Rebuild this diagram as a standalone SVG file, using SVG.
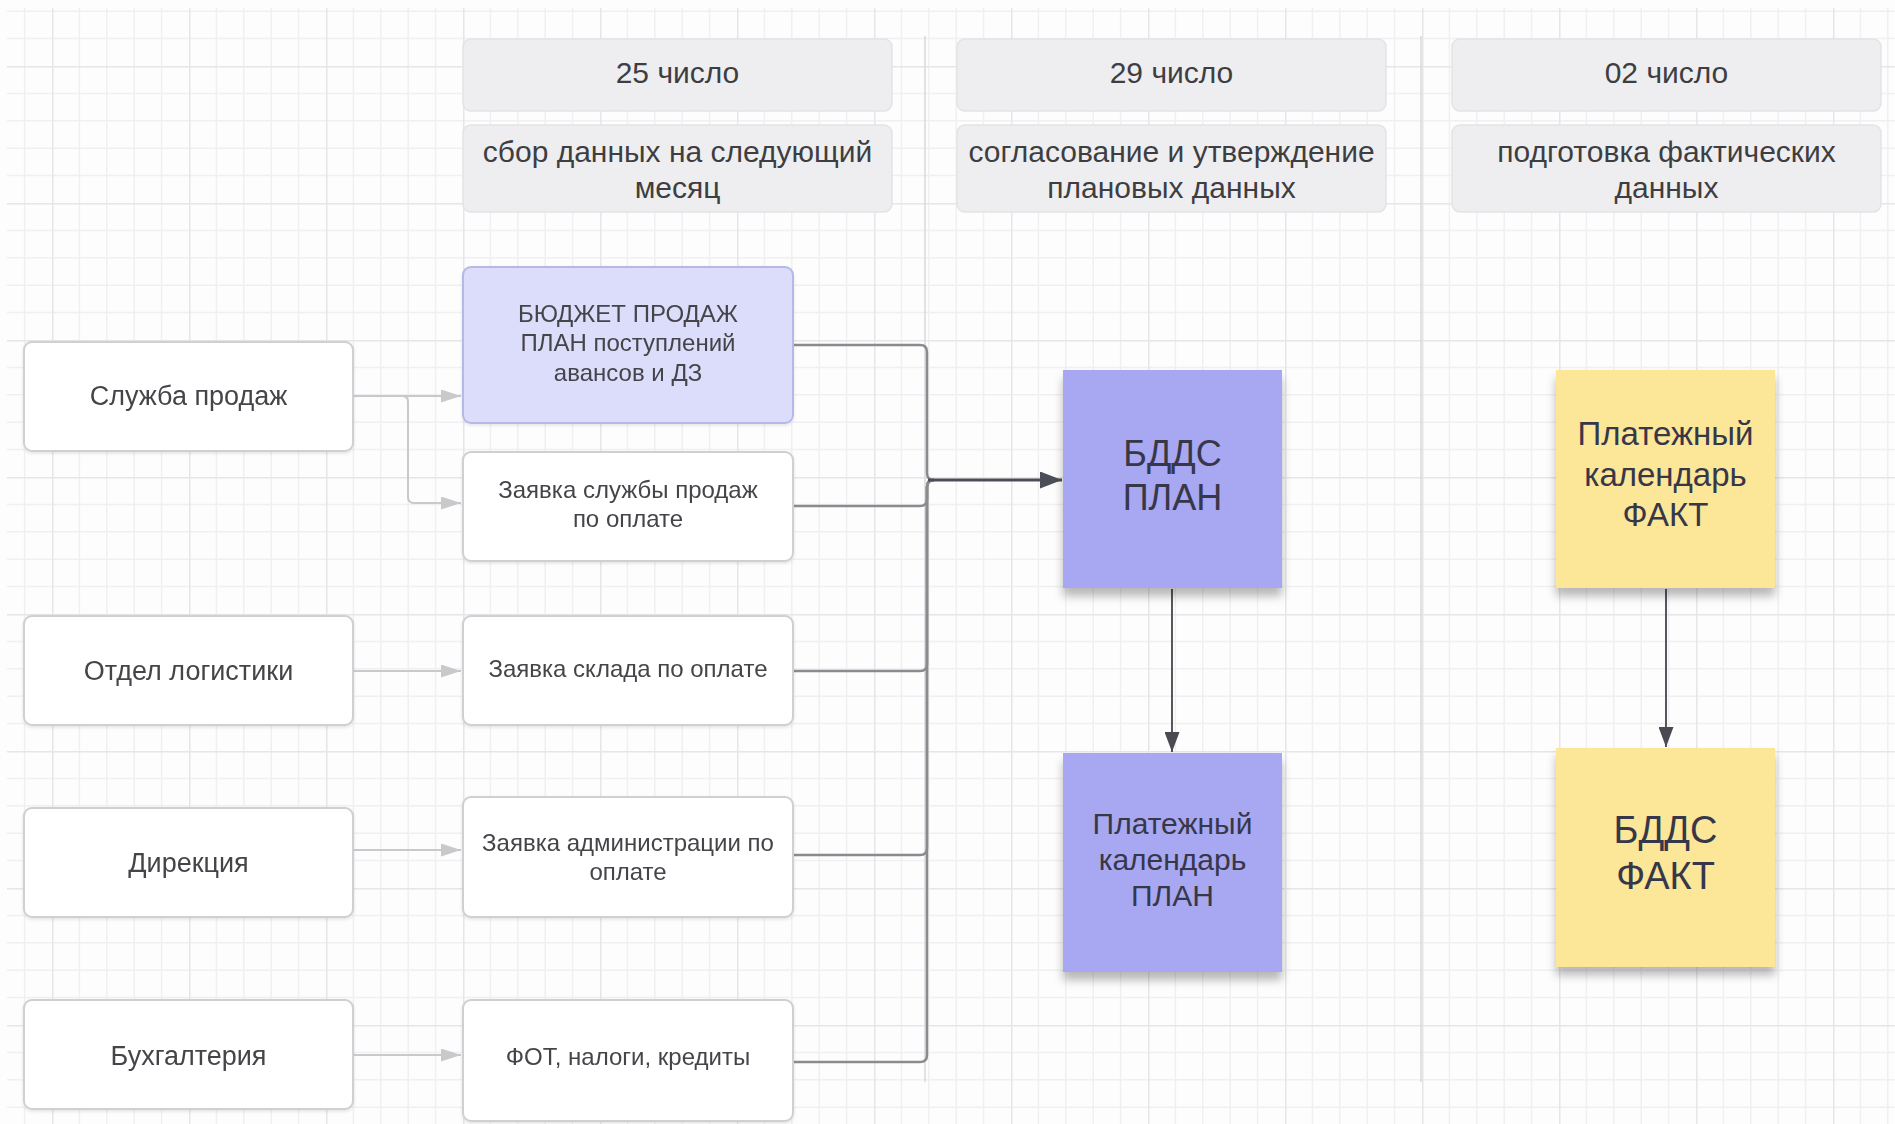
<svg xmlns="http://www.w3.org/2000/svg" width="1895" height="1124" viewBox="0 0 1895 1124">
<style>
  text { font-family: "Liberation Sans", Arial, sans-serif; text-anchor: middle; }
  .hdr rect { fill: #eeeef0; stroke: #e3e3e6; stroke-width: 1.5; }
  .hdr text { font-size: 30px; fill: #3e3e42; }
  .node rect { fill: #ffffff; stroke: #cfcfd4; stroke-width: 2; }
  .node text { fill: #45454a; }
  .left text { font-size: 27px; }
  .mid text { font-size: 24px; }
  .budget rect { fill: #dcdcfb; stroke: #b8b8e6; }
  .sticky text { fill: #37374a; }
  .lav rect { fill: #a8a7f1; }
  .yel rect { fill: #fce698; }
  .sep { stroke: #d9d9dc; stroke-width: 1.5; fill: none; }
  .light { stroke: #c9c9cc; stroke-width: 2; fill: none; }
  .bus { stroke: #8b8b8f; stroke-width: 2.5; fill: none; }
  .main { stroke: #4b4e56; stroke-width: 3; fill: none; }
  .down { stroke: #56575d; stroke-width: 2; fill: none; }
</style>
<defs>
  <pattern id="grid" x="52" y="66" width="137" height="137" patternUnits="userSpaceOnUse">
    <path d="M27.4,0V137M54.8,0V137M82.2,0V137M109.6,0V137M0,27.4H137M0,54.8H137M0,82.2H137M0,109.6H137" stroke="#f0f0f2" stroke-width="1.5" fill="none"/>
    <path d="M0.75,0V137M0,0.75H137" stroke="#e6e6e9" stroke-width="1.5" fill="none"/>
  </pattern>
  <marker id="ahLight" markerUnits="userSpaceOnUse" viewBox="0 0 20 13" markerWidth="20" markerHeight="13" refX="20" refY="6.5" orient="auto">
    <path d="M0,0 L20,6.5 L0,13 z" fill="#c9c9cc"/>
  </marker>
  <marker id="ahMain" markerUnits="userSpaceOnUse" viewBox="0 0 22 17" markerWidth="22" markerHeight="17" refX="22" refY="8.5" orient="auto">
    <path d="M0,0 L22,8.5 L0,17 z" fill="#4b4e56"/>
  </marker>
  <marker id="ahDown" markerUnits="userSpaceOnUse" viewBox="0 0 20 15" markerWidth="20" markerHeight="15" refX="20" refY="7.5" orient="auto">
    <path d="M0,0 L20,7.5 L0,15 z" fill="#4a4b52"/>
  </marker>
  <filter id="stickyShadow" x="-20%" y="-20%" width="140%" height="150%">
    <feDropShadow dx="0" dy="8" stdDeviation="5" flood-color="#000" flood-opacity="0.28"/>
  </filter>
  <filter id="boxShadow" x="-10%" y="-10%" width="120%" height="130%">
    <feDropShadow dx="0" dy="1.5" stdDeviation="1.5" flood-color="#000" flood-opacity="0.10"/>
  </filter>
</defs>

<rect width="1895" height="1124" fill="#fdfdfd"/>
<rect x="7" y="8" width="1888" height="1116" fill="url(#grid)"/>

<g id="separators">
  <line class="sep" x1="925" y1="36" x2="925" y2="1082"/>
  <line class="sep" x1="1421" y1="36" x2="1421" y2="1082"/>
</g>

<g id="header-25" class="hdr">
  <rect x="463" y="39" width="429" height="72" rx="8"/>
  <text x="677.5" y="83">25 число</text>
</g>
<g id="header-29" class="hdr">
  <rect x="957" y="39" width="429" height="72" rx="8"/>
  <text x="1171.5" y="83">29 число</text>
</g>
<g id="header-02" class="hdr">
  <rect x="1452" y="39" width="429" height="72" rx="8"/>
  <text x="1666.5" y="83">02 число</text>
</g>
<g id="stage-collect" class="hdr">
  <rect x="463" y="125" width="429" height="87" rx="8"/>
  <text x="677.5" y="162">сбор данных на следующий</text>
  <text x="677.5" y="198">месяц</text>
</g>
<g id="stage-approve" class="hdr">
  <rect x="957" y="125" width="429" height="87" rx="8"/>
  <text x="1171.5" y="162">согласование и утверждение</text>
  <text x="1171.5" y="198">плановых данных</text>
</g>
<g id="stage-fact" class="hdr">
  <rect x="1452" y="125" width="429" height="87" rx="8"/>
  <text x="1666.5" y="162">подготовка фактических</text>
  <text x="1666.5" y="198">данных</text>
</g>

<g id="connectors">
  <path class="light" d="M353,396 H461" marker-end="url(#ahLight)"/>
  <path class="light" d="M353,396 H402 Q408,396 408,402 V497 Q408,503 414,503 H461" marker-end="url(#ahLight)"/>
  <path class="light" d="M353,671 H461" marker-end="url(#ahLight)"/>
  <path class="light" d="M353,850 H461" marker-end="url(#ahLight)"/>
  <path class="light" d="M353,1055 H461" marker-end="url(#ahLight)"/>

  <path class="bus" d="M793,345 H920 Q927,345 927,352 V473 Q927,480 934,480"/>
  <path class="bus" d="M793,506 H920 Q927,506 927,499 V487 Q927,480 934,480"/>
  <path class="bus" d="M793,671 H920 Q927,671 927,664 V487 Q927,480 934,480"/>
  <path class="bus" d="M793,855 H920 Q927,855 927,848 V487 Q927,480 934,480"/>
  <path class="bus" d="M793,1062 H920 Q927,1062 927,1055 V487 Q927,480 934,480"/>
  <path class="main" d="M928,480 H1062" marker-end="url(#ahMain)"/>

  <path class="down" d="M1172,589 V752" marker-end="url(#ahDown)"/>
  <path class="down" d="M1666,589 V747" marker-end="url(#ahDown)"/>
</g>

<g id="sales" class="node left" filter="url(#boxShadow)">
  <rect x="24" y="342" width="329" height="109" rx="8"/>
  <text x="188.5" y="405">Служба продаж</text>
</g>
<g id="logistics" class="node left" filter="url(#boxShadow)">
  <rect x="24" y="616" width="329" height="109" rx="8"/>
  <text x="188.5" y="680">Отдел логистики</text>
</g>
<g id="direction" class="node left" filter="url(#boxShadow)">
  <rect x="24" y="808" width="329" height="109" rx="8"/>
  <text x="188.5" y="872">Дирекция</text>
</g>
<g id="accounting" class="node left" filter="url(#boxShadow)">
  <rect x="24" y="1000" width="329" height="109" rx="8"/>
  <text x="188.5" y="1065">Бухгалтерия</text>
</g>

<g id="sales-budget" class="node mid budget" filter="url(#boxShadow)">
  <rect x="463" y="267" width="330" height="156" rx="8"/>
  <text x="628" y="321.5">БЮДЖЕТ ПРОДАЖ</text>
  <text x="628" y="351">ПЛАН поступлений</text>
  <text x="628" y="380.5">авансов и ДЗ</text>
</g>
<g id="sales-request" class="node mid" filter="url(#boxShadow)">
  <rect x="463" y="452" width="330" height="109" rx="8"/>
  <text x="628" y="498">Заявка службы продаж</text>
  <text x="628" y="527">по оплате</text>
</g>
<g id="warehouse-request" class="node mid" filter="url(#boxShadow)">
  <rect x="463" y="616" width="330" height="109" rx="8"/>
  <text x="628" y="676.5">Заявка склада по оплате</text>
</g>
<g id="admin-request" class="node mid" filter="url(#boxShadow)">
  <rect x="463" y="797" width="330" height="120" rx="8"/>
  <text x="628" y="850.5">Заявка администрации по</text>
  <text x="628" y="879.5">оплате</text>
</g>
<g id="payroll" class="node mid" filter="url(#boxShadow)">
  <rect x="463" y="1000" width="330" height="121" rx="8"/>
  <text x="628" y="1064.5">ФОТ, налоги, кредиты</text>
</g>

<g id="bdds-plan" class="sticky lav">
  <rect x="1063" y="370" width="219" height="218" filter="url(#stickyShadow)"/>
  <text x="1172.5" y="466" font-size="36">БДДС</text>
  <text x="1172.5" y="510" font-size="36">ПЛАН</text>
</g>
<g id="paycal-plan" class="sticky lav">
  <rect x="1063" y="753" width="219" height="219" filter="url(#stickyShadow)"/>
  <text x="1172.5" y="834" font-size="30">Платежный</text>
  <text x="1172.5" y="870" font-size="30">календарь</text>
  <text x="1172.5" y="906" font-size="30">ПЛАН</text>
</g>
<g id="paycal-fact" class="sticky yel">
  <rect x="1556" y="370" width="219" height="218" filter="url(#stickyShadow)"/>
  <text x="1665.5" y="445" font-size="33">Платежный</text>
  <text x="1665.5" y="486" font-size="33">календарь</text>
  <text x="1665.5" y="526" font-size="33">ФАКТ</text>
</g>
<g id="bdds-fact" class="sticky yel">
  <rect x="1556" y="748" width="219" height="219" filter="url(#stickyShadow)"/>
  <text x="1665.5" y="842.5" font-size="38">БДДС</text>
  <text x="1665.5" y="888.5" font-size="38">ФАКТ</text>
</g>
</svg>
